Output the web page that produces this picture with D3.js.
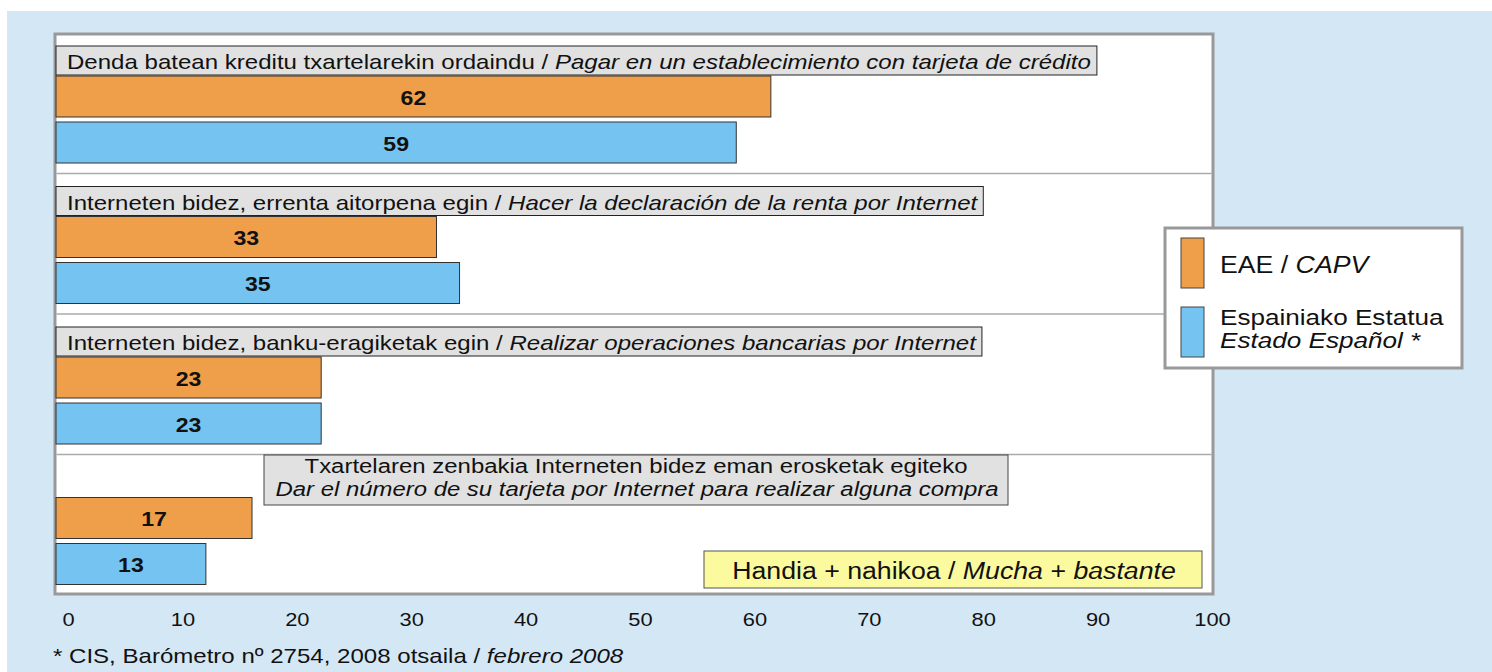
<!DOCTYPE html>
<html>
<head>
<meta charset="utf-8">
<script src="https://cdn.jsdelivr.net/npm/d3@7"></script>
<style>
  body { margin: 0; background: #fff; }
  svg { display: block; font-family: "Liberation Sans", Arial, sans-serif; }
</style>
</head>
<body>
<script>
// Datuak
const labelsEu = [
  "Denda batean kreditu txartelarekin ordaindu",
  "Interneten bidez, errenta aitorpena egin",
  "Interneten bidez, banku-eragiketak egin",
  "Txartelaren zenbakia Interneten bidez eman erosketak egiteko"
];
const labelsEs = [
  "Pagar en un establecimiento con tarjeta de crédito",
  "Hacer la declaración de la renta por Internet",
  "Realizar operaciones bancarias por Internet",
  "Dar el número de su tarjeta por Internet para realizar alguna compra"
];
const capvValues = [62, 33, 23, 17];
const spainValues = [59, 35, 23, 13];
const xTicks = [0, 10, 20, 30, 40, 50, 60, 70, 80, 90, 100];
const seriesEu = ["EAE", "Espainiako Estatua"];
const seriesEs = ["CAPV", "Estado Español *"];

const W = 1492, H = 672;
const orange = "#ef9e4a", blue = "#75c3f0";
const plot = {left: 55, top: 34, right: 1213, bottom: 594};
const SX = 1.145; // jatorrizko irudia horizontalki luzatuta dago

// testua horizontalki luzatu, luzera berria itzuli
function stretch(sel, k) {
  let last = 0;
  sel.each(function () {
    const w = this.getComputedTextLength();
    last = w * (k || SX);
    d3.select(this).attr("textLength", last).attr("lengthAdjust", "spacingAndGlyphs");
  });
  return last;
}

const svg = d3.select("body").append("svg").attr("width", W).attr("height", H);

// fondoa
svg.append("rect").attr("x", 7).attr("y", 11).attr("width", W - 7).attr("height", H - 11)
  .attr("fill", "#d4e7f5");
svg.append("rect").attr("x", plot.left).attr("y", plot.top)
  .attr("width", plot.right - plot.left).attr("height", plot.bottom - plot.top)
  .attr("fill", "#fff").attr("stroke", "#999").attr("stroke-width", 3);

// Eskalak
const x = d3.scaleLinear().domain([0, 100]).range([56, 1209]);
const y = d3.scaleBand().domain(d3.range(labelsEu.length)).range([plot.top - 1, plot.bottom + 1]);

// taldeen arteko lerroak
svg.selectAll(".sep").data(d3.range(1, labelsEu.length)).enter().append("line")
  .attr("x1", plot.left + 1.5).attr("x2", plot.right - 1.5)
  .attr("y1", d => y(d)).attr("y2", d => y(d))
  .attr("stroke", "#aaa").attr("stroke-width", 1.5);

const barH = 41;
const series = [
  {values: capvValues, color: orange, off: 43},
  {values: spainValues, color: blue, off: 89}
];

series.forEach(s => {
  svg.selectAll(null).data(s.values).enter().append("rect")
    .attr("x", x(0)).attr("y", (d, i) => y(i) + s.off)
    .attr("width", d => x(d) - x(0)).attr("height", barH)
    .attr("fill", s.color).attr("stroke", "#333").attr("stroke-width", 1);
  const t = svg.selectAll(null).data(s.values).enter().append("text")
    .attr("x", d => (x(0) + x(d)) / 2).attr("y", (d, i) => y(i) + s.off + barH / 2 + 8)
    .attr("text-anchor", "middle").attr("font-weight", "bold").attr("font-size", 21)
    .attr("fill", "#111").text(d => d);
  stretch(t, 1.1);
});

// Kategorien etiketak
labelsEu.forEach((eu, i) => {
  const g = svg.append("g");
  if (i < 3) {
    const box = g.append("rect");
    const t = g.append("text").attr("x", 67).attr("y", y(i) + 36).attr("font-size", 21).attr("fill", "#111");
    t.append("tspan").text(eu + " / ");
    t.append("tspan").attr("font-style", "italic").text(labelsEs[i]);
    const w = stretch(t);
    box.attr("x", 56).attr("y", y(i) + 13).attr("width", w + 17).attr("height", 29)
      .attr("fill", "#e1e1e1").attr("stroke", "#222").attr("stroke-width", 1);
  } else {
    const cx = 636, bw = 744;
    g.append("rect").attr("x", cx - bw / 2).attr("y", y(i) + 0.5).attr("width", bw).attr("height", 50)
      .attr("fill", "#e1e1e1").attr("stroke", "#444").attr("stroke-width", 1);
    g.append("text").attr("x", cx).attr("y", y(i) + 18).attr("text-anchor", "middle")
      .attr("font-size", 20).attr("fill", "#111")
      .attr("textLength", 663).attr("lengthAdjust", "spacingAndGlyphs").text(eu);
    g.append("text").attr("x", cx + 1).attr("y", y(i) + 41).attr("text-anchor", "middle")
      .attr("font-size", 20).attr("font-style", "italic").attr("fill", "#111")
      .attr("textLength", 723).attr("lengthAdjust", "spacingAndGlyphs").text(labelsEs[i]);
  }
});

// Ardatza (etiketak apur bat eskuinera)
const xLab = d3.scaleLinear().domain([0, 100]).range([68, 1212]);
const axis = d3.axisBottom(xLab).tickValues(xTicks).tickSize(0).tickPadding(0);
const ax = svg.append("g").attr("transform", "translate(0,612)").call(axis);
ax.select(".domain").remove();
ax.selectAll("text").attr("font-size", 19).attr("fill", "#111")
  .attr("font-family", "Liberation Sans, Arial, sans-serif");
stretch(ax.selectAll("text"), 1.15);

// Horia
svg.append("rect").attr("x", 704).attr("y", 551).attr("width", 498).attr("height", 37)
  .attr("fill", "#fbfa9e").attr("stroke", "#555").attr("stroke-width", 1);
const yt = svg.append("text").attr("x", 954).attr("y", 579).attr("text-anchor", "middle")
  .attr("font-size", 23).attr("fill", "#111");
yt.append("tspan").text("Handia + nahikoa / ");
yt.append("tspan").attr("font-style", "italic").text("Mucha");
yt.append("tspan").text(" + ");
yt.append("tspan").attr("font-style", "italic").text("bastante");
stretch(yt, 1.16);

// Legenda
const lg = svg.append("g");
lg.append("rect").attr("x", 1165).attr("y", 228).attr("width", 297).attr("height", 140)
  .attr("fill", "#fff").attr("stroke", "#999").attr("stroke-width", 3);
[orange, blue].forEach((c, i) => {
  lg.append("rect").attr("x", 1181).attr("y", 238 + i * 69).attr("width", 23).attr("height", 50)
    .attr("fill", c).attr("stroke", "#444").attr("stroke-width", 1);
});
const l1 = lg.append("text").attr("x", 1220).attr("y", 273).attr("font-size", 23).attr("fill", "#111");
l1.append("tspan").text(seriesEu[0] + " / ");
l1.append("tspan").attr("font-style", "italic").text(seriesEs[0]);
const l2 = lg.append("text").attr("x", 1220).attr("y", 325).attr("font-size", 22.5).attr("fill", "#111").text(seriesEu[1]);
const l3 = lg.append("text").attr("x", 1220).attr("y", 348).attr("font-size", 22.5).attr("font-style", "italic")
  .attr("fill", "#111").text(seriesEs[1]);
[l1, l2, l3].forEach(t => stretch(t, 1.16));

// Oharra
const fn = svg.append("text").attr("x", 53).attr("y", 663).attr("font-size", 21).attr("fill", "#111");
fn.append("tspan").text("* CIS, Barómetro nº 2754, 2008 otsaila / ");
fn.append("tspan").attr("font-style", "italic").text("febrero 2008");
stretch(fn);
</script>
</body>
</html>
